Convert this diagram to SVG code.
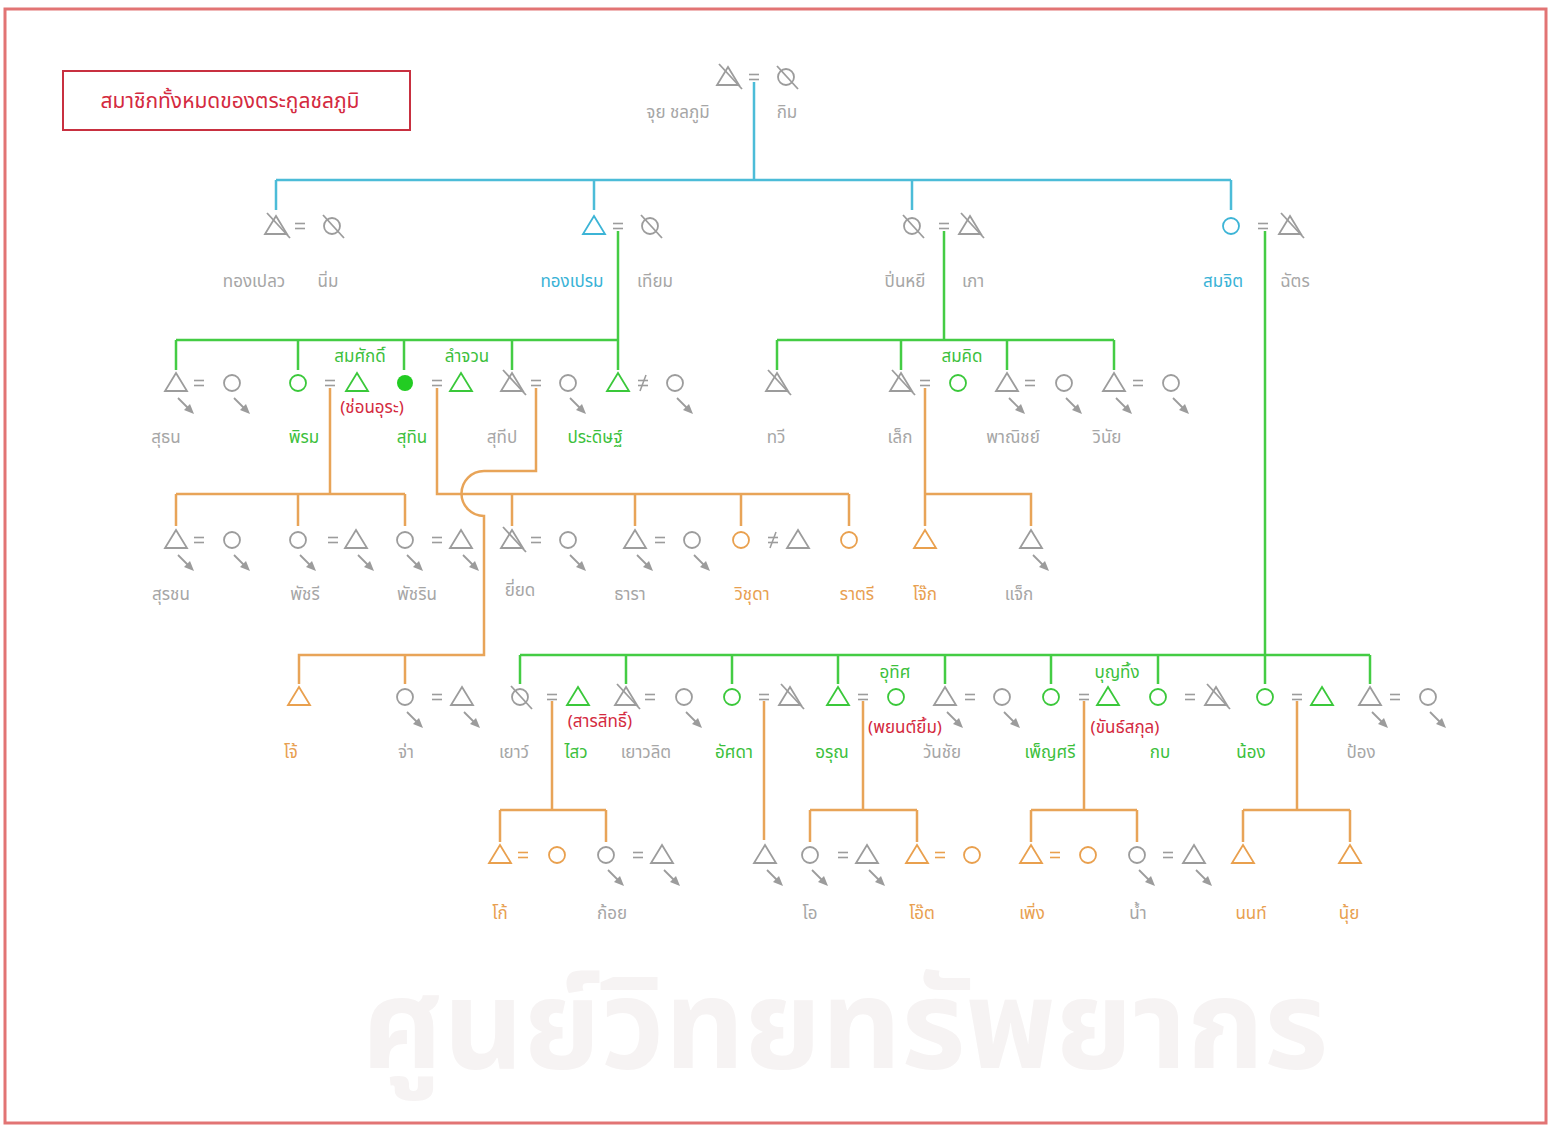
<svg xmlns="http://www.w3.org/2000/svg" xmlns:xlink="http://www.w3.org/1999/xlink" width="1550" height="1128" viewBox="0 0 1550 1128">
<style>
.g{color:#9c9c9c}
.c{color:#3cb4d6}
.gr{color:#3ac83a}
.o{color:#e9a04e}
text{font-family:"Noto Sans Thai","Noto Sans","DejaVu Sans",sans-serif;font-size:17px;text-anchor:middle}
.tg{fill:#a6a6a6}
.tc{fill:#38b2d6}
.tgr{fill:#3cbf3c}
.to{fill:#e8a050}
.tr{fill:#d42a40}
.lc{fill:none;stroke:#4cbcd8;stroke-width:2.5}
.lg{fill:none;stroke:#44cc44;stroke-width:2.5}
.lo{fill:none;stroke:#e8a458;stroke-width:2.5}
.wm{fill:#f6f3f3;font-size:124px;font-weight:bold}
</style>
<defs>
<g id="tri" fill="none" stroke="currentColor" stroke-width="1.8"><path d="M0,-10 L11,8 L-11,8 Z"/></g>
<g id="cir" fill="none" stroke="currentColor" stroke-width="1.8"><circle r="8"/></g>
<g id="dtri" fill="none" stroke="currentColor" stroke-width="1.8"><path d="M0,-10 L11,8 L-11,8 Z"/><line x1="-9" y1="-13" x2="14" y2="12"/></g>
<g id="dcir" fill="none" stroke="currentColor" stroke-width="1.8"><circle r="8"/><line x1="-9" y1="-11" x2="12" y2="12"/></g>
<g id="eq" stroke="currentColor" stroke-width="1.6"><line x1="-5" y1="-2.5" x2="5" y2="-2.5"/><line x1="-5" y1="2.5" x2="5" y2="2.5"/></g>
<g id="div" stroke="currentColor" stroke-width="1.6"><line x1="-5" y1="-2.5" x2="5" y2="-2.5"/><line x1="-5" y1="2.5" x2="5" y2="2.5"/><line x1="-3" y1="8" x2="3" y2="-8"/></g>
<g id="arr" stroke="currentColor" fill="currentColor"><line x1="2" y1="15" x2="13" y2="26" stroke-width="1.8"/><polygon points="18,31 8,27 14,21" stroke="none"/></g>
</defs>

<rect x="0" y="0" width="1550" height="1128" fill="#ffffff"/>
<text class="wm" x="845" y="1068">ศูนย์วิทยทรัพยากร</text>
<rect x="5" y="9" width="1541" height="1114" fill="none" stroke="#e27474" stroke-width="3"/>

<g id="title">
<rect x="63" y="71" width="347" height="59" fill="none" stroke="#c83040" stroke-width="2"/>
<text class="tr" x="230" y="108" style="font-size:21px">สมาชิกทั้งหมดของตระกูลชลภูมิ</text>
</g>

<g id="connectors">
<path class="lc" d="M754,82 V180 M276,180 H1231 M276,180 V210 M594,180 V210 M912,180 V210 M1231,180 V210"/>
<path class="lg" d="M618,231 V340 M176,340 H618 M176,340 V370 M298,340 V370 M404,340 V370 M512,340 V370 M618,340 V370"/>
<path class="lg" d="M944,231 V340 M777,340 H1114 M777,340 V370 M901,340 V370 M1007,340 V370 M1114,340 V370"/>
<path class="lg" d="M1265,231 V655 M520,655 H1370 M520,655 V684 M626,655 V684 M732,655 V684 M838,655 V684 M945,655 V684 M1051,655 V684 M1158,655 V684 M1265,655 V684 M1370,655 V684"/>
<path class="lo" d="M330,388 V494 M176,494 H405 M176,494 V526 M298,494 V526 M405,494 V526"/>
<path class="lo" d="M437,388 V494 H849 M512,494 V526 M635,494 V526 M741,494 V526 M849,494 V526"/>
<path class="lo" d="M536,388 V471 H484 A22,22 0 0 0 484,516 V655 H299 V684 M405,655 V684"/>
<path class="lo" d="M925,388 V526 M925,494 H1031 V526"/>
<path class="lo" d="M552,701 V810 M500,810 H606 M500,810 V842 M606,810 V842"/>
<path class="lo" d="M764,701 V840"/>
<path class="lo" d="M863,701 V810 M810,810 H917 M810,810 V842 M917,810 V842"/>
<path class="lo" d="M1084,701 V810 M1031,810 H1137 M1031,810 V842 M1137,810 V842"/>
<path class="lo" d="M1297,701 V810 M1243,810 H1350 M1243,810 V842 M1350,810 V842"/>
</g>

<!-- Generation 1 -->
<g id="n-juy"><use href="#dtri" x="728" y="77" class="g"/><use href="#eq" x="754" y="77" class="g"/><text class="tg" x="678" y="118">จุย ชลภูมิ</text></g>
<g id="n-kim"><use href="#dcir" x="786" y="77" class="g"/><text class="tg" x="787" y="118">กิม</text></g>

<!-- Generation 2 -->
<g id="n-thongplew"><use href="#dtri" x="276" y="226" class="g"/><use href="#eq" x="300" y="226" class="g"/><use href="#dcir" x="332" y="226" class="g"/><text class="tg" x="254" y="287">ทองเปลว</text><text class="tg" x="328" y="287">นิ่ม</text></g>
<g id="n-thongprem"><use href="#tri" x="594" y="226" class="c"/><use href="#eq" x="618" y="226" class="g"/><use href="#dcir" x="650" y="226" class="g"/><text class="tc" x="572" y="287">ทองเปรม</text><text class="tg" x="655" y="287">เทียม</text></g>
<g id="n-pinyi"><use href="#dcir" x="912" y="226" class="g"/><use href="#eq" x="944" y="226" class="g"/><use href="#dtri" x="970" y="226" class="g"/><text class="tg" x="905" y="287">ปิ่นหยี</text><text class="tg" x="973" y="287">เภา</text></g>
<g id="n-somjit"><use href="#cir" x="1231" y="226" class="c"/><use href="#eq" x="1263" y="226" class="g"/><use href="#dtri" x="1290" y="226" class="g"/><text class="tc" x="1223" y="287">สมจิต</text><text class="tg" x="1295" y="287">ฉัตร</text></g>

<!-- Generation 3 -->
<g id="n-suthon"><use href="#tri" x="176" y="383" class="g"/><use href="#arr" x="176" y="383" class="g"/><use href="#eq" x="199" y="383" class="g"/><use href="#cir" x="232" y="383" class="g"/><use href="#arr" x="232" y="383" class="g"/><text class="tg" x="166" y="443">สุธน</text></g>
<g id="n-phirom"><use href="#cir" x="298" y="383" class="gr"/><use href="#eq" x="330" y="383" class="g"/><use href="#tri" x="357" y="383" class="gr"/><text class="tgr" x="360" y="362">สมศักดิ์</text><text class="tr" x="372" y="413">(ช่อนอุระ)</text><text class="tgr" x="304" y="443">พิรม</text></g>
<g id="n-suthin"><circle cx="405" cy="383" r="8" fill="#22cc22"/><use href="#eq" x="437" y="383" class="g"/><use href="#tri" x="461" y="383" class="gr"/><text class="tgr" x="467" y="362">ลำจวน</text><text class="tgr" x="412" y="443">สุทิน</text></g>
<g id="n-suthip"><use href="#dtri" x="512" y="383" class="g"/><use href="#eq" x="536" y="383" class="g"/><use href="#cir" x="568" y="383" class="g"/><use href="#arr" x="568" y="383" class="g"/><text class="tg" x="502" y="443">สุทีป</text></g>
<g id="n-pradit"><use href="#tri" x="618" y="383" class="gr"/><use href="#div" x="643" y="383" class="g"/><use href="#cir" x="675" y="383" class="g"/><use href="#arr" x="675" y="383" class="g"/><text class="tgr" x="595" y="443">ประดิษฐ์</text></g>
<g id="n-thawi"><use href="#dtri" x="777" y="383" class="g"/><text class="tg" x="776" y="443">ทวี</text></g>
<g id="n-lek"><use href="#dtri" x="901" y="383" class="g"/><use href="#eq" x="925" y="383" class="g"/><use href="#cir" x="958" y="383" class="gr"/><text class="tgr" x="962" y="362">สมคิด</text><text class="tg" x="900" y="443">เล็ก</text></g>
<g id="n-phanit"><use href="#tri" x="1007" y="383" class="g"/><use href="#arr" x="1007" y="383" class="g"/><use href="#eq" x="1030" y="383" class="g"/><use href="#cir" x="1064" y="383" class="g"/><use href="#arr" x="1064" y="383" class="g"/><text class="tg" x="1013" y="443">พาณิชย์</text></g>
<g id="n-winai"><use href="#tri" x="1114" y="383" class="g"/><use href="#arr" x="1114" y="383" class="g"/><use href="#eq" x="1138" y="383" class="g"/><use href="#cir" x="1171" y="383" class="g"/><use href="#arr" x="1171" y="383" class="g"/><text class="tg" x="1107" y="443">วินัย</text></g>

<!-- Generation 4 -->
<g id="n-surachon"><use href="#tri" x="176" y="540" class="g"/><use href="#arr" x="176" y="540" class="g"/><use href="#eq" x="199" y="540" class="g"/><use href="#cir" x="232" y="540" class="g"/><use href="#arr" x="232" y="540" class="g"/><text class="tg" x="171" y="600">สุรชน</text></g>
<g id="n-phatchari"><use href="#cir" x="298" y="540" class="g"/><use href="#arr" x="298" y="540" class="g"/><use href="#eq" x="333" y="540" class="g"/><use href="#tri" x="356" y="540" class="g"/><use href="#arr" x="356" y="540" class="g"/><text class="tg" x="305" y="600">พัชรี</text></g>
<g id="n-phatcharin"><use href="#cir" x="405" y="540" class="g"/><use href="#arr" x="405" y="540" class="g"/><use href="#eq" x="437" y="540" class="g"/><use href="#tri" x="461" y="540" class="g"/><use href="#arr" x="461" y="540" class="g"/><text class="tg" x="417" y="600">พัชริน</text></g>
<g id="n-yiyot"><use href="#dtri" x="512" y="540" class="g"/><use href="#eq" x="536" y="540" class="g"/><use href="#cir" x="568" y="540" class="g"/><use href="#arr" x="568" y="540" class="g"/><text class="tg" x="520" y="596">ยี่ยด</text></g>
<g id="n-thara"><use href="#tri" x="635" y="540" class="g"/><use href="#arr" x="635" y="540" class="g"/><use href="#eq" x="660" y="540" class="g"/><use href="#cir" x="692" y="540" class="g"/><use href="#arr" x="692" y="540" class="g"/><text class="tg" x="630" y="600">ธารา</text></g>
<g id="n-wichuda"><use href="#cir" x="741" y="540" class="o"/><use href="#div" x="773" y="540" class="g"/><use href="#tri" x="798" y="540" class="g"/><text class="to" x="752" y="600">วิชุดา</text></g>
<g id="n-ratri"><use href="#cir" x="849" y="540" class="o"/><text class="to" x="857" y="600">ราตรี</text></g>
<g id="n-jok"><use href="#tri" x="925" y="540" class="o"/><text class="to" x="925" y="600">โจ๊ก</text></g>
<g id="n-jack"><use href="#tri" x="1031" y="540" class="g"/><use href="#arr" x="1031" y="540" class="g"/><text class="tg" x="1019" y="600">แจ็ก</text></g>

<!-- Generation 5 -->
<g id="n-jo"><use href="#tri" x="299" y="697" class="o"/><text class="to" x="291" y="758">โจ้</text></g>
<g id="n-ja"><use href="#cir" x="405" y="697" class="g"/><use href="#arr" x="405" y="697" class="g"/><use href="#eq" x="437" y="697" class="g"/><use href="#tri" x="462" y="697" class="g"/><use href="#arr" x="462" y="697" class="g"/><text class="tg" x="406" y="758">จ่า</text></g>
<g id="n-yao"><use href="#dcir" x="520" y="697" class="g"/><use href="#eq" x="552" y="697" class="g"/><use href="#tri" x="578" y="697" class="gr"/><text class="tr" x="600" y="727">(สารสิทธิ์)</text><text class="tg" x="514" y="758">เยาว์</text><text class="tgr" x="576" y="758">ไสว</text></g>
<g id="n-yaowalit"><use href="#dtri" x="626" y="697" class="g"/><use href="#eq" x="650" y="697" class="g"/><use href="#cir" x="684" y="697" class="g"/><use href="#arr" x="684" y="697" class="g"/><text class="tg" x="646" y="758">เยาวลิต</text></g>
<g id="n-atsada"><use href="#cir" x="732" y="697" class="gr"/><use href="#eq" x="764" y="697" class="g"/><use href="#dtri" x="790" y="697" class="g"/><text class="tgr" x="734" y="758">อัศดา</text></g>
<g id="n-arun"><use href="#tri" x="838" y="697" class="gr"/><use href="#eq" x="863" y="697" class="g"/><use href="#cir" x="896" y="697" class="gr"/><text class="tgr" x="895" y="678">อุทิศ</text><text class="tr" x="905" y="733">(พยนต์ยิ้ม)</text><text class="tgr" x="832" y="758">อรุณ</text></g>
<g id="n-wanchai"><use href="#tri" x="945" y="697" class="g"/><use href="#arr" x="945" y="697" class="g"/><use href="#eq" x="970" y="697" class="g"/><use href="#cir" x="1002" y="697" class="g"/><use href="#arr" x="1002" y="697" class="g"/><text class="tg" x="942" y="758">วันชัย</text></g>
<g id="n-phensri"><use href="#cir" x="1051" y="697" class="gr"/><use href="#eq" x="1084" y="697" class="g"/><use href="#tri" x="1108" y="697" class="gr"/><text class="tgr" x="1117" y="678">บุญทิ้ง</text><text class="tr" x="1125" y="733">(ขันธ์สกุล)</text><text class="tgr" x="1050" y="758">เพ็ญศรี</text></g>
<g id="n-kob"><use href="#cir" x="1158" y="697" class="gr"/><use href="#eq" x="1190" y="697" class="g"/><use href="#dtri" x="1216" y="697" class="g"/><text class="tgr" x="1160" y="758">กบ</text></g>
<g id="n-nong"><use href="#cir" x="1265" y="697" class="gr"/><use href="#eq" x="1297" y="697" class="g"/><use href="#tri" x="1322" y="697" class="gr"/><text class="tgr" x="1251" y="758">น้อง</text></g>
<g id="n-pong"><use href="#tri" x="1370" y="697" class="g"/><use href="#arr" x="1370" y="697" class="g"/><use href="#eq" x="1395" y="697" class="g"/><use href="#cir" x="1428" y="697" class="g"/><use href="#arr" x="1428" y="697" class="g"/><text class="tg" x="1361" y="758">ป้อง</text></g>

<!-- Generation 6 -->
<g id="n-ko"><use href="#tri" x="500" y="855" class="o"/><use href="#eq" x="523" y="855" class="o"/><use href="#cir" x="557" y="855" class="o"/><text class="to" x="500" y="919">โก้</text></g>
<g id="n-koy"><use href="#cir" x="606" y="855" class="g"/><use href="#arr" x="606" y="855" class="g"/><use href="#eq" x="638" y="855" class="g"/><use href="#tri" x="662" y="855" class="g"/><use href="#arr" x="662" y="855" class="g"/><text class="tg" x="612" y="919">ก้อย</text></g>
<g id="n-atsada-child"><use href="#tri" x="765" y="855" class="g"/><use href="#arr" x="765" y="855" class="g"/></g>
<g id="n-o"><use href="#cir" x="810" y="855" class="g"/><use href="#arr" x="810" y="855" class="g"/><use href="#eq" x="843" y="855" class="g"/><use href="#tri" x="867" y="855" class="g"/><use href="#arr" x="867" y="855" class="g"/><text class="tg" x="810" y="919">โอ</text></g>
<g id="n-ot"><use href="#tri" x="917" y="855" class="o"/><use href="#eq" x="940" y="855" class="o"/><use href="#cir" x="972" y="855" class="o"/><text class="to" x="922" y="919">โอ๊ต</text></g>
<g id="n-phoeng"><use href="#tri" x="1031" y="855" class="o"/><use href="#eq" x="1055" y="855" class="o"/><use href="#cir" x="1088" y="855" class="o"/><text class="to" x="1032" y="919">เพิ่ง</text></g>
<g id="n-nam"><use href="#cir" x="1137" y="855" class="g"/><use href="#arr" x="1137" y="855" class="g"/><use href="#eq" x="1168" y="855" class="g"/><use href="#tri" x="1194" y="855" class="g"/><use href="#arr" x="1194" y="855" class="g"/><text class="tg" x="1138" y="919">น้ำ</text></g>
<g id="n-non"><use href="#tri" x="1243" y="855" class="o"/><text class="to" x="1251" y="919">นนท์</text></g>
<g id="n-nui"><use href="#tri" x="1350" y="855" class="o"/><text class="to" x="1349" y="919">นุ้ย</text></g>
</svg>
